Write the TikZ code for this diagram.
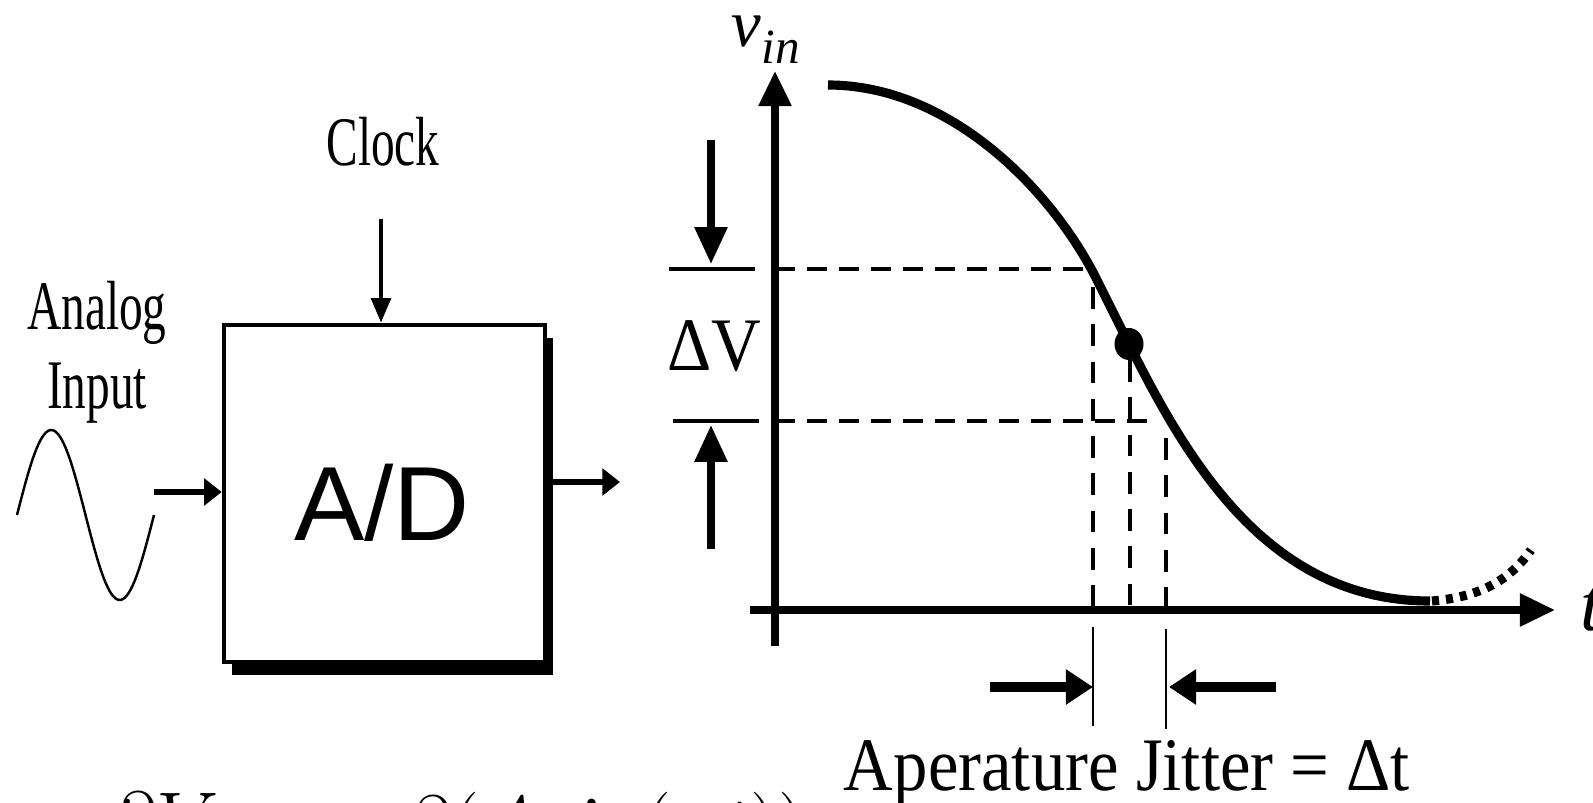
\RequirePackage{fix-cm}
\documentclass[tikz,border=0pt]{standalone}
\usepackage{fontspec}
\setmainfont{Liberation Serif}
\newfontfamily\blockfont[FakeStretch=0.68]{Liberation Serif}
\newfontfamily\plotfont[FakeStretch=0.91]{Liberation Serif}
\newfontfamily\adfont{Liberation Sans}
\usetikzlibrary{arrows.meta,shadows}

\tikzset{
  adbox/.style={draw, line width=1.3pt, fill=white, inner sep=0pt,
    minimum width=3.21cm, minimum height=3.37cm,
    drop shadow={shadow xshift=0.08cm, shadow yshift=-0.13cm, fill=black, opacity=1}},
  blocklabel/.style={font=\blockfont\fontsize{19.8}{22.4}\selectfont, inner sep=0pt, align=center},
  plotlabel/.style={font=\plotfont\fontsize{21.5}{24}\selectfont, inner sep=0pt},
  signal/.style={line width=1.7pt, -{Triangle[length=5pt,width=7.5pt]}},
  axisline/.style={line width=2pt, -{Triangle[length=10pt,width=9pt]}},
  guideh/.style={line width=0.9pt, dash pattern=on 5.7pt off 3.4pt},
  guidev/.style={line width=0.9pt, dash pattern=on 6.2pt off 4.4pt},
  dvarrow/.style={line width=2pt, -{Triangle[length=10.5pt,width=9pt]}},
  fatarrow/.style={line width=2.6pt, -{Triangle[length=7.7pt,width=9.6pt]}},
}

\begin{document}
\begin{tikzpicture}[x=1cm,y=1cm]
\path[use as bounding box] (0,0) rectangle (15.93,8.02);
% converter block
\node[adbox] (ad) at (3.845,3.085) {};
\node[font=\adfont\fontsize{30}{32}\selectfont, inner sep=0pt] (adlabel) at (3.82,2.99) {A/D};
\node[blocklabel] (clock) at (3.83,6.60) {Clock};
\node[blocklabel, anchor=north] (analog) at (0.97,5.21) {Analog\\Input};
\draw[line width=0.7pt] plot[domain=0:360, samples=72] ({0.17+1.37*\x/360},{2.87+0.85*sin(\x)});
\coordinate (sinend) at (1.54,3.10);
\coordinate (clockin) at (3.81,5.83);
\coordinate (adout) at (6.20,3.20);
\draw[line width=1.3pt, -{Triangle[length=7pt,width=5.5pt]}] (clockin) -- (clockin |- ad.north);
\draw[signal] (sinend) -- (sinend -| ad.west);
\draw[signal] (adout -| ad.east) -- (adout);
% axes
\draw[axisline] (7.75,1.56) -- (7.75,7.31);
\draw[axisline] (7.50,1.92) -- (15.55,1.92);
\node[font=\fontsize{19}{22}\selectfont\itshape, inner sep=0pt, anchor=base west] (vin) at (7.31,7.55) {v\raisebox{-0.24em}{\fontsize{14}{16}\selectfont in}};
\node[font=\fontsize{22}{24}\selectfont\itshape, inner sep=0pt, anchor=west] (taxis) at (15.80,1.93) {t};
% input signal
\draw[line width=2.6pt] (8.28,7.17) .. controls (9.50,7.17) and (10.52,6.12) .. (10.97,5.22)
  -- (11.29,4.58) .. controls (11.89,3.38) and (12.70,2.01) .. (14.30,2.01);
\draw[line width=2.6pt, dash pattern=on 2pt off 2pt] (14.32,2.01) .. controls (14.80,2.05) and (15.10,2.22) .. (15.31,2.52);
\fill (11.29,4.58) ellipse [x radius=0.145, y radius=0.16];
% guides
\draw[guideh] (7.75,5.33) -- (10.83,5.33);
\draw[guideh] (7.75,3.81) -- (11.47,3.81);
\draw[guidev] (10.93,5.15) -- (10.93,1.92);
\draw[guidev] (11.30,4.42) -- (11.30,1.92);
\draw[guidev] (11.66,3.64) -- (11.66,1.92);
% delta V
\draw[line width=1.1pt] (6.69,5.33) -- (7.55,5.33);
\draw[line width=1.1pt] (6.73,3.81) -- (7.59,3.81);
\draw[dvarrow] (7.11,6.62) -- (7.11,5.38);
\draw[dvarrow] (7.11,2.53) -- (7.11,3.77);
\node[plotlabel] (dv) at (7.14,4.56) {ΔV};
% jitter
\draw[line width=0.5pt] (10.93,1.75) -- (10.93,0.76);
\draw[line width=0.5pt] (11.66,1.73) -- (11.66,0.73);
\coordinate (jleft) at (10.93,1.15);
\coordinate (jright) at (11.69,1.15);
\draw[fatarrow] (9.90,1.15) -- (jleft);
\draw[fatarrow] (12.76,1.15) -- (jright);
\node[plotlabel, anchor=base] (jitter) at (11.27,0.12) {Aperature Jitter = Δt};
% formula, cut by the page edge
\node[font=\fontsize{22.5}{26}\selectfont, anchor=north west, inner sep=0pt] (dvnum) at (1.11,0.10) {$\partial V$};
\node[font=\fontsize{22.5}{26}\selectfont, anchor=north west, inner sep=0pt] (dsinnum) at (4.06,0.10) {$\partial(A\sin(\omega t))$};
\end{tikzpicture}
\end{document}
